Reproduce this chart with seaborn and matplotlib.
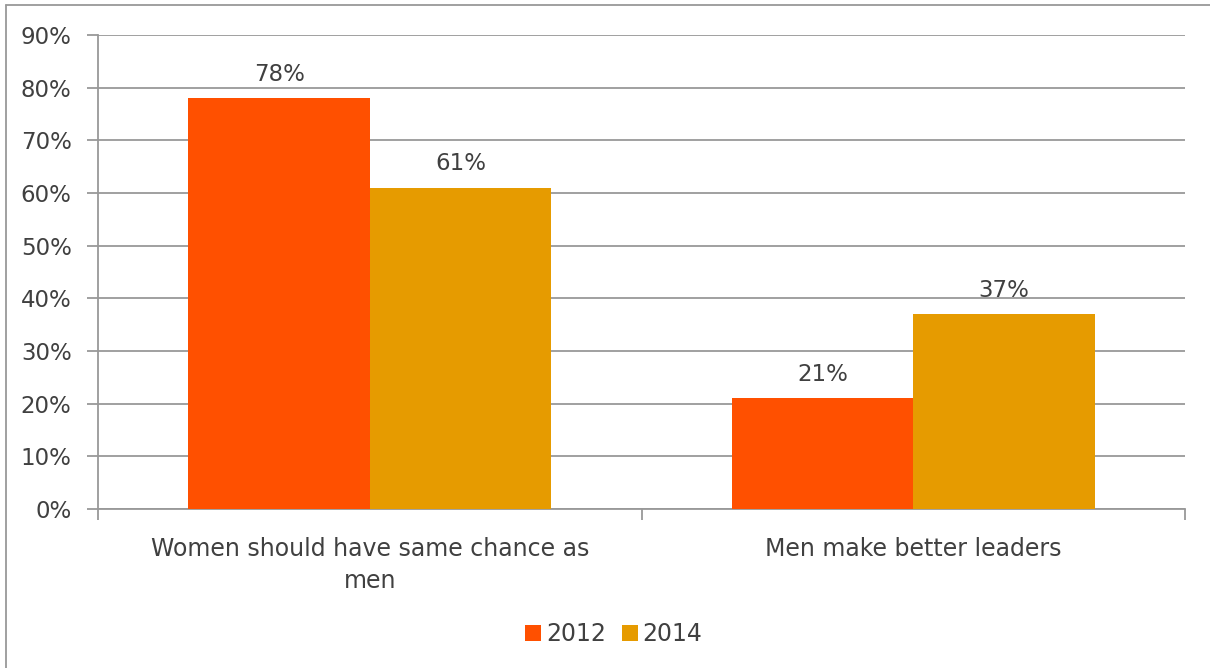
import matplotlib
matplotlib.use("Agg")
import matplotlib.pyplot as plt
import matplotlib.ticker as mtick
from matplotlib.lines import Line2D
import seaborn as sns
import pandas as pd

# data
categories = ["Women should have same chance as\nmen", "Men make better leaders"]
years = ["2012", "2014"]
values_2012 = [78, 21]
values_2014 = [61, 37]
colors = {"2012": "#FF5000", "2014": "#E69B00"}

df = pd.DataFrame({
    "category": categories * 2,
    "year": [years[0]] * 2 + [years[1]] * 2,
    "value": values_2012 + values_2014,
})

sns.set_style("white")
plt.rcParams["font.family"] = ["DejaVu Sans"]
text_col = "#404040"
grid_col = "#999999"
fs = 16.5

fig = plt.figure(figsize=(12.1, 6.68), dpi=100)
ax = fig.add_axes([98 / 1210, 1 - 509 / 668, (1185 - 98) / 1210, (509 - 35) / 668])

sns.barplot(data=df, x="category", y="value", hue="year", palette=colors,
            width=0.667, saturation=1, linewidth=0, ax=ax, legend=False, zorder=3)

ax.set_ylim(0, 90)
ax.set_yticks(range(0, 91, 10))
ax.yaxis.set_major_formatter(mtick.FormatStrFormatter("%d%%"))
ax.yaxis.grid(True, color=grid_col, linewidth=1.3, zorder=0)
ax.set_axisbelow(True)
ax.set_xlim(-0.5, 1.5)
ax.set_xlabel("")
ax.set_ylabel("")

for s in ["top", "right"]:
    ax.spines[s].set_visible(False)
for s in ["left", "bottom"]:
    ax.spines[s].set_color(grid_col)
    ax.spines[s].set_linewidth(1.3)

ax.tick_params(axis="y", left=True, direction="out", length=8, width=1.3, color=grid_col,
               labelsize=fs, labelcolor=text_col, pad=11)
# category labels without ticks, boundary ticks drawn as minor
ax.tick_params(axis="x", which="major", bottom=True, length=0, labelsize=fs + 0.5,
               labelcolor=text_col, pad=20)
for lab in ax.get_xticklabels():
    lab.set_linespacing(1.45)
ax.set_xticks([-0.5, 0.5, 1.5], minor=True)
ax.tick_params(axis="x", which="minor", bottom=True, direction="out", length=8, width=1.3,
               color=grid_col)

for cont in ax.containers:
    ax.bar_label(cont, labels=[f"{v:.0f}%" for v in cont.datavalues],
                 padding=9, fontsize=fs, color=text_col)

handles = [Line2D([], [], marker="s", linestyle="", markersize=12,
                  markerfacecolor=colors[y], markeredgewidth=0) for y in years]
fig.legend(handles, years, loc="center", bbox_to_anchor=(612 / 1210, 1 - 634 / 668),
           ncol=2, frameon=False, fontsize=fs + 0.5, labelcolor=text_col,
           handletextpad=0.05, columnspacing=0.5, handlelength=1.0)

# chart area border (top and left visible)
fig.add_artist(Line2D([6 / 1210, 6 / 1210], [0, 1 - 5 / 668], transform=fig.transFigure,
                      color=grid_col, linewidth=1.3))
fig.add_artist(Line2D([6 / 1210, 1], [1 - 5 / 668, 1 - 5 / 668], transform=fig.transFigure,
                      color=grid_col, linewidth=1.3))

fig.savefig("out.png", dpi=100)
